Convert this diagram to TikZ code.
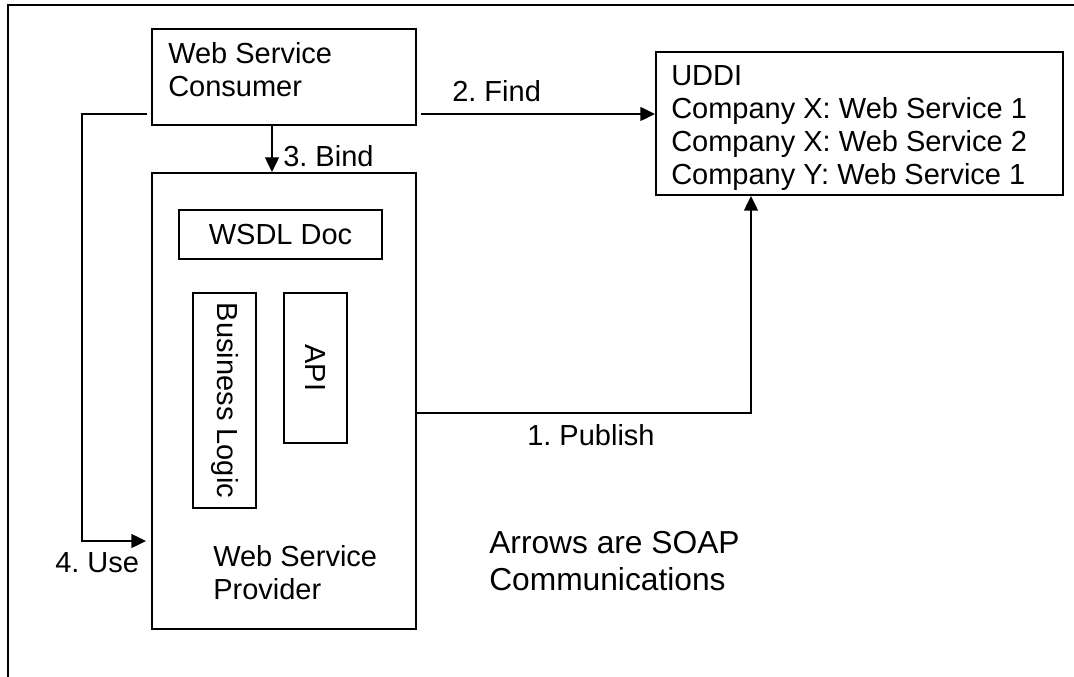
\documentclass[tikz,border=0pt]{standalone}
\usepackage{fontspec}
\setmainfont{Liberation Sans}
\usetikzlibrary{arrows.meta,fit}
\frenchspacing

\begin{document}
\begin{tikzpicture}[x=0.75pt,y=-0.75pt,
  box/.style={draw, line width=1.5pt, inner sep=0pt},
  lbl/.style={font=\fontsize{21.75pt}{24.75pt}\selectfont, inner sep=0pt, align=left},
  notelbl/.style={font=\fontsize{23.8pt}{27.75pt}\selectfont, inner sep=0pt, align=left},
  link/.style={line width=1pt, -{Triangle[length=11pt,width=10.5pt]}},
  frameline/.style={line width=1.7pt}]

\useasboundingbox (0,0) rectangle (1074,677);

% outer frame (only its top and left sides fall on the page)
\draw[frameline] (1090,5) -- (8,5) -- (8,690);

% consumer (multi-line labels are placed by the baseline of their last line)
\node[box, fit={(152,29)(416,125)}] (consumer) {};
\node[lbl, anchor=base west] (consumertxt) at (168,97) {Web Service\\Consumer};

% provider and its parts
\node[box, fit={(152,173)(416,629)}] (provider) {};
\node[lbl, anchor=base west] (providertxt) at (213,599) {Web Service\\Provider};
\node[box, fit={(179,210)(382,259)}] (wsdl) {};
\node[lbl] (wsdltxt) at (wsdl.center) {WSDL Doc};
\node[box, fit={(193,293)(256,508)}] (logic) {};
\node[lbl, rotate=-90] (logictxt) at (logic.center) {Business Logic};
\node[box, fit={(284,293)(347,443)}] (api) {};
\node[lbl, rotate=-90] (apitxt) at (api.center) {API};

% registry
\node[box, fit={(656,52)(1063,195)}] (uddi) {};
\node[lbl, anchor=base west] (udditxt) at (671,185)
  {UDDI\\Company X: Web Service 1\\Company X: Web Service 2\\Company Y: Web Service 1};

% free ends of the connectors
\coordinate (findstart) at (421,114);
\coordinate (usestart) at (147,114);
\coordinate (usecorner) at (82,541);
\coordinate (useend) at (146,541);
\coordinate (pub) at (751,413);

% 1. Publish
\draw[link] (pub -| provider.east) -| (pub |- uddi.south);
\node[lbl, anchor=base west] (publbl) at (527,445) {1. Publish};

% 2. Find
\draw[link] (findstart) -- (findstart -| uddi.west);
\node[lbl, anchor=base west] (findlbl) at (452,102) {2. Find};

% 3. Bind
\draw[link] ([xshift=-9pt]consumer.south) -- ([xshift=-9pt]provider.north);
\node[lbl, anchor=base west] (bindlbl) at (283,167) {3. Bind};

% 4. Use
\draw[link] (usestart) -| (usecorner) -- (useend);
\node[lbl, anchor=base west] (uselbl) at (55,572) {4. Use};

% note
\node[notelbl, anchor=base west] (note) at (489,590) {Arrows are SOAP\\Communications};

\end{tikzpicture}
\end{document}
